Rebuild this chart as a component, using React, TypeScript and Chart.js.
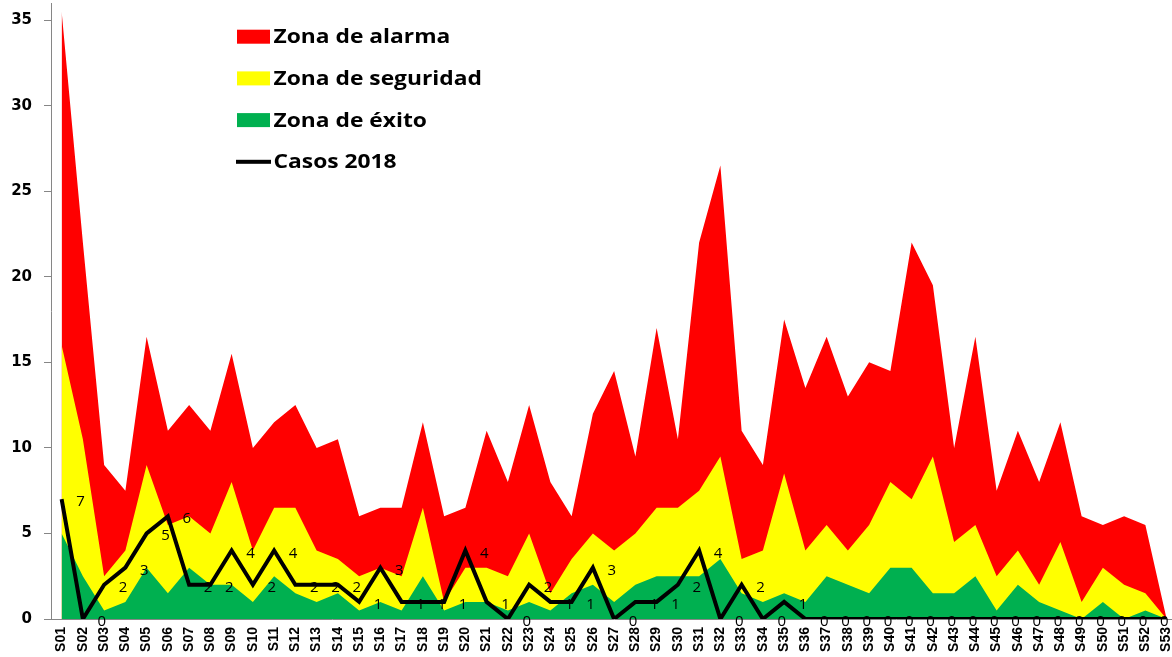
import React, { useEffect, useRef } from 'react';
import { Chart, registerables } from 'chart.js';

Chart.register(...registerables);

const semanas = [
  'S01', 'S02', 'S03', 'S04', 'S05', 'S06', 'S07', 'S08', 'S09', 'S10',
  'S11', 'S12', 'S13', 'S14', 'S15', 'S16', 'S17', 'S18', 'S19', 'S20',
  'S21', 'S22', 'S23', 'S24', 'S25', 'S26', 'S27', 'S28', 'S29', 'S30',
  'S31', 'S32', 'S33', 'S34', 'S35', 'S36', 'S37', 'S38', 'S39', 'S40',
  'S41', 'S42', 'S43', 'S44', 'S45', 'S46', 'S47', 'S48', 'S49', 'S50',
  'S51', 'S52', 'S53',
];

const zonaAlarma = [
  35.5, 22, 9, 7.5, 16.5, 11, 12.5, 11, 15.5, 10,
  11.5, 12.5, 10, 10.5, 6, 6.5, 6.5, 11.5, 6, 6.5,
  11, 8, 12.5, 8, 6, 12, 14.5, 9.5, 17, 10.5,
  22, 26.5, 11, 9, 17.5, 13.5, 16.5, 13, 15, 14.5,
  22, 19.5, 10, 16.5, 7.5, 11, 8, 11.5, 6, 5.5,
  6, 5.5, 0,
];

const zonaSeguridad = [
  16, 10.5, 2.5, 4, 9, 5.5, 6, 5, 8, 4,
  6.5, 6.5, 4, 3.5, 2.5, 3, 2.5, 6.5, 1, 3,
  3, 2.5, 5, 1.5, 3.5, 5, 4, 5, 6.5, 6.5,
  7.5, 9.5, 3.5, 4, 8.5, 4, 5.5, 4, 5.5, 8,
  7, 9.5, 4.5, 5.5, 2.5, 4, 2, 4.5, 1, 3,
  2, 1.5, 0,
];

const zonaExito = [
  5, 2.5, 0.5, 1, 3, 1.5, 3, 2, 2, 1,
  2.5, 1.5, 1, 1.5, 0.5, 1, 0.5, 2.5, 0.5, 1,
  1, 0.5, 1, 0.5, 1.5, 2, 1, 2, 2.5, 2.5,
  2.5, 3.5, 1.5, 1, 1.5, 1, 2.5, 2, 1.5, 3,
  3, 1.5, 1.5, 2.5, 0.5, 2, 1, 0.5, 0, 1,
  0, 0.5, 0,
];

const casos2018 = [
  7, 0, 2, 3, 5, 6, 2, 2, 4, 2,
  4, 2, 2, 2, 1, 3, 1, 1, 1, 4,
  1, 0, 2, 1, 1, 3, 0, 1, 1, 2,
  4, 0, 2, 0, 1, 0, 0, 0, 0, 0,
  0, 0, 0, 0, 0, 0, 0, 0, 0, 0,
  0, 0, 0,
];

const yTicks = [0, 5, 10, 15, 20, 25, 30, 35];

const ROJO = '#FF0000';
const AMARILLO = '#FFFF00';
const VERDE = '#00B050';
const GRIS = '#868686';

const caseLabelPlugin = {
  id: 'caseLabels',
  afterDatasetsDraw(chart: any) {
    const meta = chart.getDatasetMeta(0);
    const values = chart.data.datasets[0].data as number[];
    const ctx = chart.ctx as CanvasRenderingContext2D;
    ctx.save();
    ctx.font = '15px "Open Sans"';
    ctx.fillStyle = '#000';
    ctx.textAlign = 'center';
    ctx.textBaseline = 'alphabetic';
    meta.data.forEach((pt: any, i: number) => {
      ctx.fillText(String(values[i]), pt.x + 19, pt.y + 7);
    });
    ctx.restore();
  },
};

const legendPlugin = {
  id: 'customLegend',
  afterDraw(chart: any) {
    const ctx = chart.ctx as CanvasRenderingContext2D;
    const ds = chart.data.datasets;
    const items = [ds[3], ds[2], ds[1], ds[0]];
    const x0 = 237;
    const y0 = 36.7;
    const step = 41.7;
    ctx.save();
    items.forEach((d: any, i: number) => {
      const cy = y0 + i * step;
      if (d.fill) {
        ctx.fillStyle = d.backgroundColor;
        ctx.fillRect(x0, cy - 7, 33, 14);
      } else {
        ctx.fillStyle = d.borderColor;
        ctx.fillRect(x0 - 1, cy - 2, 35, 4);
      }
      ctx.save();
      ctx.translate(x0 + 36.5, cy + 6.5);
      ctx.scale(1.14, 1);
      ctx.font = 'bold 20px "Open Sans"';
      ctx.fillStyle = '#000';
      ctx.textAlign = 'left';
      ctx.textBaseline = 'alphabetic';
      ctx.fillText(d.label, 0, 0);
      ctx.restore();
    });
    ctx.restore();
  },
};

export default function App() {
  const canvasRef = useRef<HTMLCanvasElement | null>(null);

  useEffect(() => {
    const canvas = canvasRef.current;
    if (!canvas) return;
    const areaBase = {
      type: 'line',
      borderWidth: 0,
      borderColor: 'rgba(0,0,0,0)',
      pointRadius: 0,
      pointHoverRadius: 0,
      tension: 0,
      fill: 'origin',
    };
    const chart = new Chart(canvas, {
      type: 'line',
      data: {
        labels: semanas,
        datasets: [
          {
            label: 'Casos 2018',
            data: casos2018,
            borderColor: '#000000',
            backgroundColor: '#000000',
            borderWidth: 4,
            pointRadius: 0,
            pointHoverRadius: 0,
            tension: 0,
            fill: false,
          },
          { ...areaBase, label: 'Zona de éxito', data: zonaExito, backgroundColor: VERDE },
          { ...areaBase, label: 'Zona de seguridad', data: zonaSeguridad, backgroundColor: AMARILLO },
          { ...areaBase, label: 'Zona de alarma', data: zonaAlarma, backgroundColor: ROJO },
        ] as any,
      },
      options: {
        animation: false,
        responsive: false,
        devicePixelRatio: 1,
        events: [],
        layout: { padding: { top: 3, right: 0.75, left: 0, bottom: 0 } },
        plugins: {
          legend: { display: false },
          tooltip: { enabled: false },
        },
        scales: {
          x: {
            offset: true,
            grid: { display: false, drawTicks: false, tickLength: 0, offset: true },
            border: { display: true, color: GRIS, width: 1 },
            ticks: {
              autoSkip: false,
              maxRotation: 90,
              minRotation: 90,
              padding: 8,
              color: '#000',
              font: { family: '"Liberation Sans", Arial, sans-serif', weight: 'bold', size: 14 },
            },
            afterFit: (s: any) => {
              s.height = 38;
              s.paddingLeft = 0;
              s.paddingRight = 0;
            },
          },
          y: {
            min: 0,
            max: 36,
            afterBuildTicks: (axis: any) => {
              axis.ticks = yTicks.map((v) => ({ value: v }));
            },
            ticks: {
              padding: 12,
              color: '#000',
              font: { family: '"DejaVu Sans", sans-serif', weight: 'bold', size: 15 },
            },
            grid: {
              drawOnChartArea: false,
              drawTicks: true,
              tickLength: 7,
              color: GRIS,
            },
            border: { display: true, color: GRIS, width: 1 },
            afterFit: (s: any) => {
              s.width = 51;
              s.paddingTop = 0;
              s.paddingBottom = 0;
            },
          },
        },
      } as any,
      plugins: [caseLabelPlugin, legendPlugin],
    });
    return () => chart.destroy();
  }, []);

  return (
    <div
      style={{
        position: 'fixed',
        left: 0,
        top: 0,
        width: 1172,
        height: 657,
        overflow: 'hidden',
        background: '#fff',
      }}
    >
      <canvas ref={canvasRef} width={1178} height={657} style={{ display: 'block' }} />
    </div>
  );
}
